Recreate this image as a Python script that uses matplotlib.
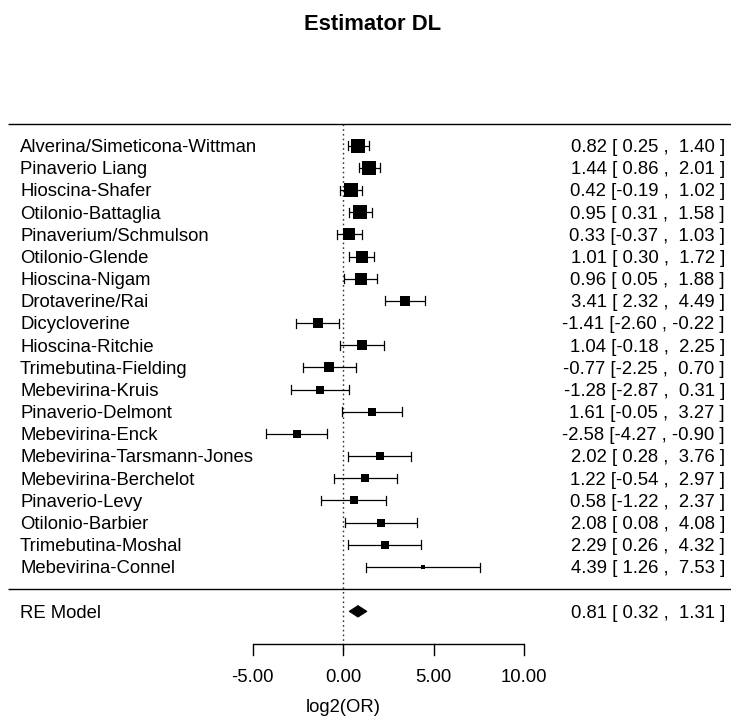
import numpy as np
import matplotlib
matplotlib.use("Agg")
import matplotlib.pyplot as plt
from matplotlib.patches import Polygon

plt.rcParams['font.family'] = ['Liberation Sans', 'DejaVu Sans']

studies = [
    "Alverina/Simeticona-Wittman", "Pinaverio Liang", "Hioscina-Shafer",
    "Otilonio-Battaglia", "Pinaverium/Schmulson", "Otilonio-Glende",
    "Hioscina-Nigam", "Drotaverine/Rai", "Dicycloverine", "Hioscina-Ritchie",
    "Trimebutina-Fielding", "Mebevirina-Kruis", "Pinaverio-Delmont",
    "Mebevirina-Enck", "Mebevirina-Tarsmann-Jones", "Mebevirina-Berchelot",
    "Pinaverio-Levy", "Otilonio-Barbier", "Trimebutina-Moshal",
    "Mebevirina-Connel",
]
est = [0.82, 1.44, 0.42, 0.95, 0.33, 1.01, 0.96, 3.41, -1.41, 1.04,
       -0.77, -1.28, 1.61, -2.58, 2.02, 1.22, 0.58, 2.08, 2.29, 4.39]
lower = [0.25, 0.86, -0.19, 0.31, -0.37, 0.30, 0.05, 2.32, -2.60, -0.18,
         -2.25, -2.87, -0.05, -4.27, 0.28, -0.54, -1.22, 0.08, 0.26, 1.26]
upper = [1.40, 2.01, 1.02, 1.58, 1.03, 1.72, 1.88, 4.49, -0.22, 2.25,
         0.70, 0.31, 3.27, -0.90, 3.76, 2.97, 2.37, 4.08, 4.32, 7.53]

re_label = "RE Model"
re_est, re_lower, re_upper = 0.81, 0.32, 1.31

x_ticks = [-5, 0, 5, 10]
x_label = "log2(OR)"
title = "Estimator DL"

# ---- random-effects (DerSimonian-Laird) weights for square sizes ----
yi = np.array(est)
se = (np.array(upper) - np.array(lower)) / (2 * 1.96)
vi = se ** 2
wi = 1 / vi
ybar = np.sum(wi * yi) / np.sum(wi)
Q = np.sum(wi * (yi - ybar) ** 2)
k = len(yi)
c = np.sum(wi) - np.sum(wi ** 2) / np.sum(wi)
tau2 = max(0.0, (Q - (k - 1)) / c)
w_re = 1 / (vi + tau2)
psize = 0.5 + (w_re - w_re.min()) / (w_re.max() - w_re.min())

# ---- figure geometry (pixel layout -> data coordinates) ----
W, H = 731, 722
fig = plt.figure(figsize=(W / 100, H / 100), dpi=100)
ax = fig.add_axes([0, 0, 1, 1])
ax.set_axis_off()

x0_px, x_scale = 343.3, 18.1          # pixel of x=0, pixels per unit
row1_px, row_step = 567.0, 22.17      # pixel of bottom study row (y=1)

def px_x(p):
    return (p - x0_px) / x_scale

def px_y(p):
    return 1 + (row1_px - p) / row_step

ax.set_xlim(px_x(0), px_x(W))
ax.set_ylim(px_y(H), px_y(0))

FS = 13.3
ys = np.arange(k, 0, -1)
base_off = 6.3 / row_step   # half cap-height, so text sits centred on row

# header / separator lines
ax.plot([px_x(8), px_x(W)], [k + 1, k + 1], color='black', lw=1.0,
        solid_capstyle='butt')
ax.plot([px_x(8), px_x(W)], [0, 0], color='black', lw=1.0,
        solid_capstyle='butt')

# reference line at zero
ax.plot([0, 0], [k + 1, px_y(652)], color='#333333', lw=1.0,
        linestyle=(0, (1.2, 2.2)))

# confidence intervals and study squares
tick_h = 4.5 / row_step
for y, e, lo, hi, ps in zip(ys, est, lower, upper, psize):
    ax.plot([lo, hi], [y, y], color='black', lw=0.9, solid_capstyle='butt')
    ax.plot([lo, lo], [y - tick_h, y + tick_h], color='black', lw=0.9)
    ax.plot([hi, hi], [y - tick_h, y + tick_h], color='black', lw=0.9)
    ax.plot([e], [y], marker='s', markersize=ps * 6.4, color='black',
            markeredgewidth=0)

# summary diamond
dh = 5.8 / row_step
ax.add_patch(Polygon([[re_lower, -1], [re_est, -1 + dh], [re_upper, -1],
                      [re_est, -1 - dh]], closed=True, facecolor='black',
                     edgecolor='black', lw=0.6))

# labels and annotations
def annot(e, lo, hi):
    return f"{e:.2f} [{lo:5.2f} , {hi:5.2f} ]"

for y, name, e, lo, hi in zip(ys, studies, est, lower, upper):
    ax.text(px_x(20), y - base_off, name, ha='left', va='baseline', fontsize=FS)
    ax.text(px_x(725), y - base_off, annot(e, lo, hi), ha='right',
            va='baseline', fontsize=FS)

ax.text(px_x(20), -1 - base_off, re_label, ha='left', va='baseline', fontsize=FS)
ax.text(px_x(725), -1 - base_off, annot(re_est, re_lower, re_upper),
        ha='right', va='baseline', fontsize=FS)

# x axis
ax_y = px_y(644)
ax.plot([x_ticks[0], x_ticks[-1]], [ax_y, ax_y], color='black', lw=1.0,
        solid_capstyle='butt')
for t in x_ticks:
    ax.plot([t, t], [ax_y, px_y(655)], color='black', lw=1.0)
    ax.text(t, px_y(677), f"{t:.2f}", ha='center', va='center', fontsize=FS)
ax.text(0, px_y(712), x_label, ha='center', va='baseline', fontsize=FS)

# title
ax.text(px_x(373), px_y(25), title, ha='center', va='center',
        fontsize=15.8, fontweight='bold')

fig.savefig("out.png", dpi=100)
